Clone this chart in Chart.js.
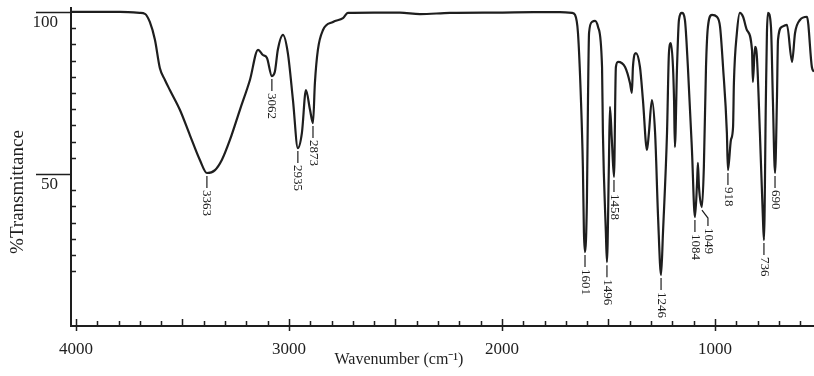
<!DOCTYPE html>
<html>
<head>
<meta charset="utf-8">
<title>IR spectrum</title>
<script src="https://cdn.jsdelivr.net/npm/chart.js@4.4.1/dist/chart.umd.min.js"></script>
<style>
  html, body { margin: 0; padding: 0; background: #fff; }
  #wrap { width: 814px; height: 376px; position: relative; }
</style>
</head>
<body>
<div id="wrap"><canvas id="irChart"></canvas></div>
<script>
// Spectrum values (wavenumber in cm-1, %T)
const wavenumbers = [
  4020, 3793, 3700, 3676, 3653, 3629, 3606, 3582, 3559, 3512,
  3465, 3418, 3385, 3347, 3315, 3277, 3230, 3183, 3145, 3122,
  3103, 3080, 3066, 3052, 3028, 3005, 2981, 2958, 2939, 2920,
  2901, 2887, 2878, 2864, 2840, 2793, 2746, 2723, 2600, 2479,
  2385, 2244, 2009, 1850, 1728, 1671, 1657, 1643, 1629, 1620,
  1615, 1610, 1601, 1596, 1591, 1577, 1563, 1549, 1530, 1526,
  1512, 1507, 1498, 1493, 1484, 1474, 1465, 1455, 1422, 1399,
  1390, 1385, 1371, 1352, 1338, 1319, 1310, 1296, 1281, 1267,
  1253, 1244, 1225, 1216, 1207, 1197, 1192, 1188, 1178, 1169,
  1155, 1141, 1127, 1108, 1094, 1084, 1080, 1075, 1061, 1052,
  1042, 1033, 1014, 991, 976, 962, 944, 939, 925, 915,
  911, 897, 883, 868, 850, 826, 822, 812, 803, 789,
  775, 770, 761, 756, 751, 737, 728, 718, 709, 704,
  685, 662, 638, 624, 601, 568, 545, 535
];
const transmittance = [
  100, 100, 99.7, 99.4, 96.9, 91.4, 82.7, 79.0, 75.9, 69.8,
  62.0, 54.3, 50.3, 51.2, 54.3, 60.5, 69.8, 79.0, 88.3, 86.7,
  85.8, 80.2, 81.5, 88.3, 92.9, 87.3, 72.8, 58.0, 62.7, 75.9,
  69.8, 65.7, 78.1, 88.3, 94.4, 96.9, 98.1, 99.7, 99.8, 99.8,
  99.3, 99.7, 99.8, 99.9, 99.9, 99.7, 99.1, 93.5, 72.8, 52.2,
  31.8, 25.9, 42.0, 72.8, 93.5, 96.9, 97.2, 95.4, 83.0, 62.7,
  31.8, 22.8, 52.2, 70.7, 60.5, 49.1, 83.0, 84.6, 83.0, 78.1,
  75.0, 83.0, 87.3, 83.0, 72.8, 57.4, 62.7, 72.8, 62.7, 36.7,
  18.8, 31.8, 62.7, 87.3, 90.4, 83.0, 72.8, 58.3, 83.0, 97.5,
  99.7, 97.5, 83.0, 57.4, 36.7, 47.2, 53.4, 46.0, 39.8, 52.2,
  83.0, 95.4, 99.1, 98.5, 95.4, 83.0, 62.7, 51.2, 60.5, 64.5,
  78.1, 93.5, 99.7, 98.5, 94.4, 88.3, 78.4, 89.2, 86.1, 62.7,
  36.7, 29.6, 72.8, 93.5, 99.7, 95.4, 72.8, 50.3, 72.8, 91.4,
  95.4, 96.0, 84.6, 93.5, 97.5, 98.5, 83.0, 81.5
];

// Peak annotations: printed label and the spectrum point it hangs from
const peakLabels = ['3363', '3062', '2935', '2873', '1601', '1496', '1458', '1246', '1084', '1049', '918', '736', '690'];
const peakAt     = [3385, 3080, 2958, 2887, 1610, 1507, 1474, 1253, 1094, 1061, 939, 770, 718];

const xTickLabels = [4000, 3000, 2000, 1000];
const yTickLabels = [50, 100];

const ink = '#1e1e1e';
const serif = "'Liberation Serif', 'Times New Roman', serif";
const leaderBend = { '1049': 6 };

const points = wavenumbers.map((w, i) => ({ x: w, y: transmittance[i] }));

const irDecor = {
  id: 'irDecor',
  afterDraw(chart) {
    const { ctx, scales: { x, y } } = chart;
    ctx.save();
    ctx.strokeStyle = ink;
    ctx.lineWidth = 1.5;

    // inward ticks on both axes
    ctx.beginPath();
    x.ticks.forEach(t => {
      if (t.value % 100 !== 0 || t.value > 4000) return;
      const px = Math.round(x.getPixelForValue(t.value)) + 0.5;
      const len = t.value % 500 === 0 ? 7 : 5;
      ctx.moveTo(px, x.top);
      ctx.lineTo(px, x.top - len);
      if (xTickLabels.includes(t.value)) {
        ctx.moveTo(px, x.top);
        ctx.lineTo(px, x.top + 5);
      }
    });
    y.ticks.forEach(t => {
      if (t.value % 5 !== 0 || t.value < 20) return;
      const py = Math.round(y.getPixelForValue(t.value)) + 0.5;
      if (yTickLabels.includes(t.value)) {
        ctx.moveTo(y.right - 35, py);
        ctx.lineTo(y.right, py);
      } else {
        ctx.moveTo(y.right, py);
        ctx.lineTo(y.right + 5, py);
      }
    });
    ctx.stroke();

    // peak labels, rotated, hanging under each band
    ctx.fillStyle = ink;
    ctx.lineWidth = 1.2;
    ctx.font = '13px ' + serif;
    ctx.textBaseline = 'middle';
    ctx.textAlign = 'left';
    peakLabels.forEach((lab, i) => {
      const idx = wavenumbers.indexOf(peakAt[i]);
      const px = x.getPixelForValue(wavenumbers[idx]);
      const py = y.getPixelForValue(transmittance[idx]);
      const bend = leaderBend[lab] || 0;
      const top = py + 3;
      const bottom = py + 15;
      ctx.beginPath();
      ctx.moveTo(px, top);
      if (bend) {
        ctx.lineTo(px + bend, top + 8);
        ctx.lineTo(px + bend, bottom + 4);
      } else {
        ctx.lineTo(px, bottom);
      }
      ctx.stroke();
      ctx.save();
      ctx.translate(px + bend, bottom + (bend ? 6 : 2));
      ctx.rotate(Math.PI / 2);
      ctx.fillText(lab, 0, 0);
      ctx.restore();
    });

    // axis titles
    ctx.font = '19px ' + serif;
    ctx.textAlign = 'center';
    ctx.save();
    ctx.translate(18, 192);
    ctx.rotate(-Math.PI / 2);
    ctx.fillText('%Transmittance', 0, 0);
    ctx.restore();
    ctx.font = '16px ' + serif;
    ctx.fillText('Wavenumber (cm\u207B\u00B9)', 399, 360);
    ctx.restore();
  }
};

new Chart(document.getElementById('irChart'), {
  type: 'line',
  data: {
    datasets: [{
      data: points,
      borderColor: ink,
      borderWidth: 2.2,
      pointRadius: 0,
      fill: false,
      cubicInterpolationMode: 'monotone'
    }]
  },
  options: {
    responsive: true,
    maintainAspectRatio: false,
    animation: false,
    layout: { padding: { top: 8, right: 0, bottom: 0, left: 0 } },
    plugins: { legend: { display: false }, tooltip: { enabled: false } },
    scales: {
      x: {
        type: 'linear',
        reverse: true,
        min: 535,
        max: 4023,
        afterFit: s => { s.height = 50; s.paddingLeft = 0; s.paddingRight = 0; },
        border: { display: true, color: ink, width: 2 },
        grid: { drawOnChartArea: false, drawTicks: false },
        ticks: {
          stepSize: 100,
          includeBounds: false,
          autoSkip: false,
          maxRotation: 0,
          padding: 13,
          color: ink,
          font: { family: serif, size: 17 },
          callback: v => xTickLabels.includes(v) ? String(v) : ''
        }
      },
      y: {
        type: 'linear',
        min: 3.1,
        max: 101.2,
        afterFit: s => { s.width = 71; s.paddingTop = 0; s.paddingBottom = 0; },
        border: { display: true, color: ink, width: 2 },
        grid: { drawOnChartArea: false, drawTicks: false },
        ticks: {
          stepSize: 5,
          includeBounds: false,
          autoSkip: false,
          padding: 13,
          labelOffset: 11,
          color: ink,
          font: { family: serif, size: 17 },
          callback: v => yTickLabels.includes(v) ? String(v) : ''
        }
      }
    }
  },
  plugins: [irDecor]
});
</script>
</body>
</html>
